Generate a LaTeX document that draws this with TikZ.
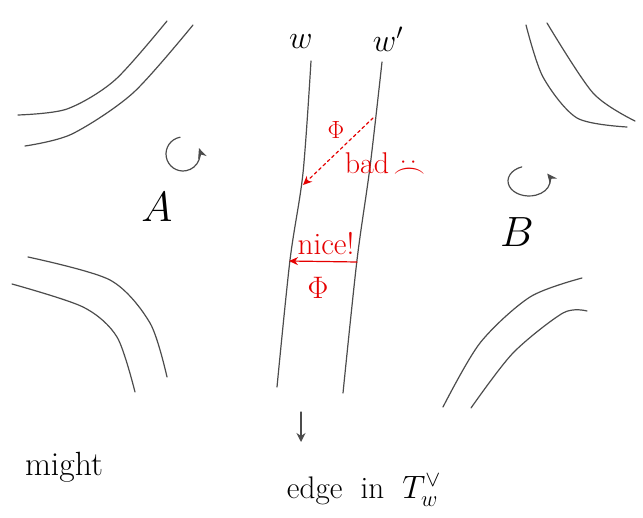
\documentclass[tikz,border=0pt]{standalone}
\usetikzlibrary{arrows.meta}
\tikzset{
  pen/.style={gray!60!black,line width=1.2pt,line cap=round},
  redpen/.style={red!90!black,line width=1.2pt,line cap=round},
  word/.style={font=\fontsize{24}{28}\selectfont},
  redword/.style={red!90!black,font=\fontsize{24}{28}\selectfont},
}
\newcommand{\hugemath}[2]{\scalebox{#1}{$#2$}}
\begin{document}
\begin{tikzpicture}[x=1pt,y=-1pt]
  \useasboundingbox (0,0) rectangle (643,518);
  % corners of the neighbouring strips
  \draw[pen] plot[smooth] coordinates {(18,115) (67,109) (115,80) (167,21)};
  \draw[pen] plot[smooth] coordinates {(25,146) (72,134) (133,93) (193,25)};
  \draw[pen] plot[smooth] coordinates {(526,25) (543,77) (577,118) (627,127)};
  \draw[pen] plot[smooth] coordinates {(547,23) (593,93) (635,121)};
  \draw[pen] plot[smooth] coordinates {(28,257) (110,280) (150,323) (167,377)};
  \draw[pen] plot[smooth] coordinates {(12,284) (83,307) (117,337) (135,392)};
  \draw[pen] plot[smooth] coordinates {(443,407) (480,343) (530,297) (582,278)};
  \draw[pen] plot[smooth] coordinates {(471,408) (513,353) (563,313) (587,311)};
  % the strip
  \draw[pen] plot[smooth] coordinates {(311,61) (303,173) (290,260) (277,387)};
  \draw[pen] plot[smooth] coordinates {(382,62) (370,167) (357,260) (343,393)};
  \node[word] (w) at (301,42) {\hugemath{1.3}{w}};
  \node[word] (wp) at (388,39) {\hugemath{1.3}{w'}};
  % rotations
  \draw[pen,-{Stealth[length=10pt,width=9pt]}] (183,154) ++(260:17 and 17) arc[start angle=260,end angle=-20,x radius=17,y radius=17];
  \draw[pen,-{Stealth[length=10pt,width=9pt]}] (529,181) ++(250:21 and 15) arc[start angle=250,end angle=-30,x radius=21,y radius=15];
  \node[word] (A) at (157,207) {\hugemath{1.7}{A}};
  \node[word] (B) at (517,232) {\hugemath{1.7}{B}};
  % maps across the strip
  \coordinate (badS) at (373,118);
  \coordinate (badT) at (303,185);
  \draw[redpen,dashed,-{Stealth[length=9pt,width=8pt]}] (badS) -- (badT);
  \node[redword] (phibad) at (336,130) {$\Phi$};
  \node[redword] (bad) at (367,163) {\scalebox{1.25}{bad}};
  \node[redword,rotate=-90] (sad) at (410,167) {\scalebox{1.2}{:(}};
  \coordinate (niceS) at (357,262);
  \coordinate (niceT) at (289,261);
  \draw[redpen,-{Stealth[length=9pt,width=8pt]}] (niceS) -- (niceT);
  \node[redword] (nice) at (326,244) {\scalebox{1.3}{nice!}};
  \node[redword] (phinice) at (318,288) {\hugemath{1.25}{\Phi}};
  % below
  \coordinate (downS) at (301,412);
  \coordinate (downT) at (301,442);
  \draw[pen,-{Stealth[length=9pt,width=9pt]}] (downS) -- (downT);
  \node[word] (might) at (64,467) {\scalebox{1.4}{might}};
  \node[word] (edge) at (364,490) {\scalebox{1.3}{edge \;in\; $T_w^\vee$}};
\end{tikzpicture}
\end{document}
